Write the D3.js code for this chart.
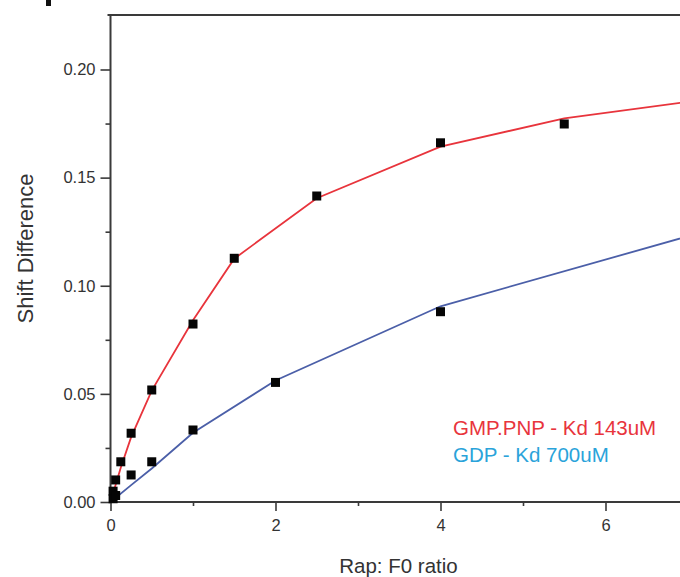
<!DOCTYPE html>
<html>
<head>
<meta charset="utf-8">
<script src="https://cdn.jsdelivr.net/npm/d3@7"></script>
<style>
  html, body { margin: 0; padding: 0; background: #fff; }
  svg { display: block; }
</style>
</head>
<body>
<svg id="chart" width="680" height="577"></svg>
<script>
// ---- data ----
const gmpX = [0.03125, 0.0625, 0.125, 0.25, 0.5, 1, 1.5, 2.5, 4, 5.5];
const gmpY = [0.005, 0.0102, 0.0186, 0.0318, 0.0518, 0.0823, 0.1127, 0.1415, 0.1661, 0.1748];
const gdpX = [0.03125, 0.0625, 0.25, 0.5, 1, 2, 4];
const gdpY = [0.0015, 0.003, 0.0125, 0.0186, 0.0333, 0.0553, 0.088];
// fitted curves (vertices of the fit polylines)
const gmpFitX = [0, 0.03125, 0.0625, 0.125, 0.25, 0.5, 1, 1.5, 2.5, 4, 5.5, 7];
const gmpFitY = [0, 0.004, 0.008, 0.016, 0.030, 0.0515, 0.084, 0.1125, 0.1405, 0.1643, 0.1774, 0.1851];
const gdpFitX = [0, 0.25, 0.5, 1, 2, 4, 7];
const gdpFitY = [0, 0.0078, 0.0155, 0.032, 0.0562, 0.0905, 0.1229];
const xMajorTicks = [0, 2, 4, 6];
const xMinorTicks = [1, 3, 5];
const yMajorTicks = [0, 0.05, 0.10, 0.15, 0.20];
const yMinorTicks = [0.025, 0.075, 0.125, 0.175];
const legendLabels = ["GMP.PNP - Kd 143uM", "GDP - Kd 700uM"];
const xTitle = "Rap: F0 ratio";
const yTitle = "Shift Difference";

// ---- layout ----
const svg = d3.select("#chart");
const font = "'Liberation Sans', Arial, Helvetica, sans-serif";
const axisColor = "#3a3a3a";
const textColor = "#333";
const redColor = "#e8343c";
const blueLine = "#4b5fa8";
const blueText = "#2aa3da";

const x = d3.scaleLinear().domain([0, 7]).range([110.5, 688]);
const y = d3.scaleLinear().domain([0, 0.2252]).range([502, 15]);

// panel-letter remnant at top-left
svg.append("rect").attr("x", 46).attr("y", 0).attr("width", 5).attr("height", 6).attr("fill", "#111");

// top frame line
svg.append("line")
  .attr("x1", x(0) - 3).attr("x2", 680)
  .attr("y1", y(0.2252)).attr("y2", y(0.2252))
  .attr("stroke", axisColor).attr("stroke-width", 2);

// x axis
const xAxisG = svg.append("g").attr("transform", `translate(0,${y(0)})`);
xAxisG.call(d3.axisBottom(x).tickValues(xMajorTicks).tickSize(9).tickPadding(8).tickFormat(d3.format("d")));
const xMinorG = svg.append("g").attr("transform", `translate(0,${y(0)})`);
xMinorG.call(d3.axisBottom(x).tickValues(xMinorTicks).tickSize(4).tickFormat(""));

// y axis
const yAxisG = svg.append("g").attr("transform", `translate(${x(0)},0)`);
yAxisG.call(d3.axisLeft(y).tickValues(yMajorTicks).tickSize(10).tickPadding(5).tickFormat(d3.format(".2f")));
const yMinorG = svg.append("g").attr("transform", `translate(${x(0)},0)`);
yMinorG.call(d3.axisLeft(y).tickValues(yMinorTicks).tickSize(5).tickFormat(""));

[xAxisG, xMinorG, yAxisG, yMinorG].forEach(g => {
  g.select(".domain").attr("stroke", axisColor).attr("stroke-width", 2);
  g.selectAll(".tick line").attr("stroke", axisColor).attr("stroke-width", 1.6);
  g.selectAll(".tick text").attr("fill", textColor).attr("font-family", font).attr("font-size", 16.5);
});
// extend x domain line to the right edge
xAxisG.select(".domain").attr("d", `M${x(0)},0H690`);
yAxisG.select(".domain").attr("d", `M0,${y(0)}V${y(0.2252)}`);
xMinorG.select(".domain").remove();
yMinorG.select(".domain").remove();

// fit lines
const line = d3.line().x(d => x(d[0])).y(d => y(d[1]));
svg.append("path")
  .datum(gdpFitX.map((v, i) => [v, gdpFitY[i]]))
  .attr("d", line).attr("fill", "none").attr("stroke", blueLine).attr("stroke-width", 1.8);
svg.append("path")
  .datum(gmpFitX.map((v, i) => [v, gmpFitY[i]]))
  .attr("d", line).attr("fill", "none").attr("stroke", redColor).attr("stroke-width", 1.8);

// data points (black squares)
const sq = 9;
const pts = gmpX.map((v, i) => [v, gmpY[i]]).concat(gdpX.map((v, i) => [v, gdpY[i]]));
svg.append("g").selectAll("rect").data(pts).join("rect")
  .attr("x", d => x(d[0]) - sq / 2).attr("y", d => y(d[1]) - sq / 2)
  .attr("width", sq).attr("height", sq).attr("fill", "#050505");

// legend
svg.append("text").attr("x", 453).attr("y", 435)
  .attr("font-family", font).attr("font-size", 20.5).attr("fill", redColor).text(legendLabels[0]);
svg.append("text").attr("x", 453).attr("y", 461.5)
  .attr("font-family", font).attr("font-size", 20.5).attr("fill", blueText).text(legendLabels[1]);

// axis titles
svg.append("text").attr("x", 398.5).attr("y", 572.5).attr("text-anchor", "middle")
  .attr("font-family", font).attr("font-size", 20.5).attr("fill", textColor).text(xTitle);
svg.append("text").attr("transform", "translate(33,248.5) rotate(-90)").attr("text-anchor", "middle")
  .attr("font-family", font).attr("font-size", 22).attr("fill", textColor).text(yTitle);
</script>
</body>
</html>
